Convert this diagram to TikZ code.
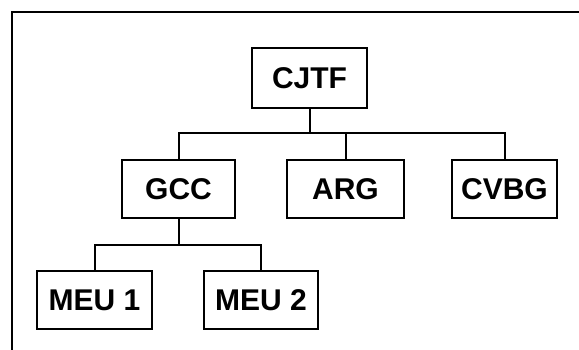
\documentclass[tikz,border=0pt]{standalone}
\usepackage{fontspec}
\setmainfont{Liberation Sans}
\usetikzlibrary{positioning,calc}
\tikzset{
 unit/.style={draw=black,line width=2pt,fill=white,minimum height=58pt,inner sep=0pt,font=\fontsize{30}{32}\selectfont\bfseries},
 link/.style={line width=2pt,draw=black},
 frame/.style={line width=2pt,draw=black}
}
\begin{document}
\begin{tikzpicture}[x=1pt,y=-1pt]
\useasboundingbox (0,0) rectangle (579,350);
\draw[frame] (579,12) -- (12,12) -- (12,350);
\node[unit,minimum width=115pt,minimum height=60pt] (cjtf) at (309.5,78) {CJTF};
\foreach \name/\x/\w/\label in {gcc/178.5/113/GCC,arg/345.5/117/ARG,cvbg/504.5/105/CVBG}
 \node[unit,minimum width=\w pt] (\name) at (\x,189) {\label};
\foreach \name/\x/\w/\label in {meu1/94.5/115/MEU 1,meu2/261/114/MEU 2}
 \node[unit,minimum width=\w pt] (\name) at (\x,300) {\label};
\coordinate (topbus) at ($(cjtf.south)+(0,24)$);
\coordinate (lowbus) at ($(gcc.south)+(0,26)$);
\draw[link] (cjtf.south) -- (topbus);
\draw[link] (gcc.north) |- (topbus) -| (cvbg.north);
\draw[link] (arg.north) -- (arg.north |- topbus);
\draw[link] (gcc.south) -- (lowbus);
\draw[link] (meu1.north) |- (lowbus) -| (meu2.north);
\end{tikzpicture}
\end{document}
